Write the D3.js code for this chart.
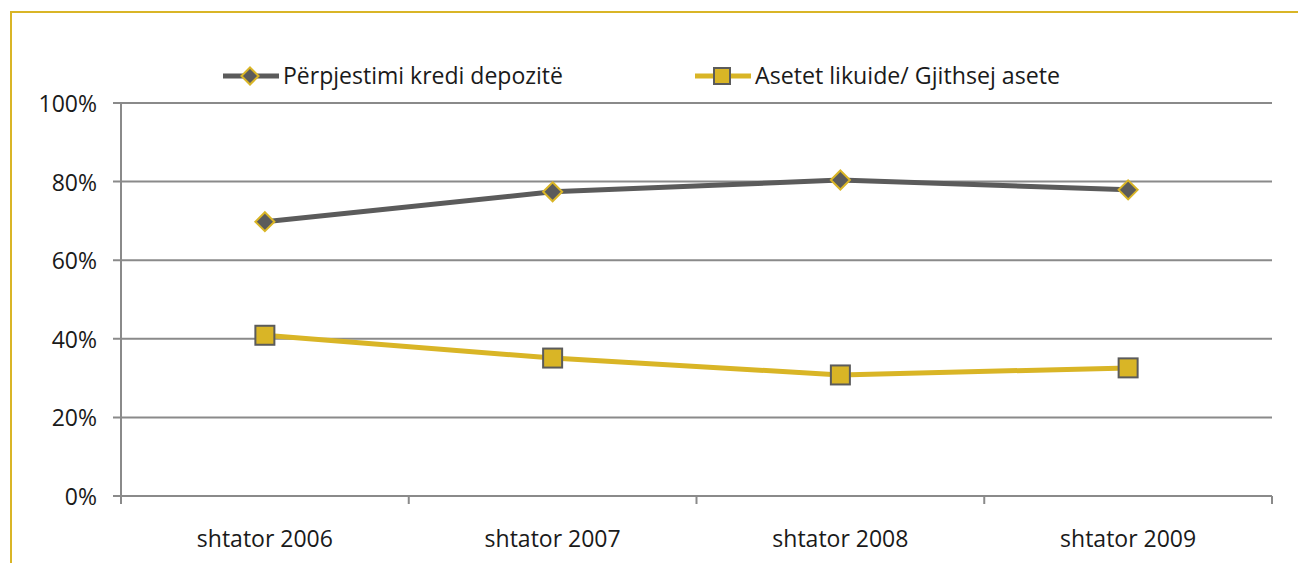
<!DOCTYPE html>
<html>
<head>
<meta charset="utf-8">
<script src="https://cdn.jsdelivr.net/npm/d3@7"></script>
<style>
  html, body { margin: 0; padding: 0; background: #fff; }
  svg { display: block; }
</style>
</head>
<body>
<svg id="chart" width="1298" height="563"></svg>
<script>
// chart values
const categories = ['shtator 2006', 'shtator 2007', 'shtator 2008', 'shtator 2009'];
const loanDeposit = [69.8, 77.4, 80.4, 77.9];     // Përpjestimi kredi depozitë
const liquidAssets = [40.9, 35.1, 30.8, 32.6];    // Asetet likuide/ Gjithsej asete
const yTicks = [0, 20, 40, 60, 80, 100];
const seriesNames = ['Përpjestimi kredi depozitë', 'Asetet likuide/ Gjithsej asete'];

const W = 1298, H = 563;
const gold = '#d9b526', dark = '#5b5b5b', grid = '#8a8a8a', ink = '#1a1a1a';
const font = '"Open Sans", "Noto Sans", sans-serif';
const m = { left: 121, right: 1272, top: 103, bottom: 496 };

const svg = d3.select('#chart');

// outer frame (gold, open to the right / bottom)
svg.append('path')
  .attr('d', `M11,${H} L11,12 L${W},12`)
  .attr('fill', 'none').attr('stroke', gold).attr('stroke-width', 2);

const x = d3.scaleBand().domain(categories).range([m.left, m.right]);
const y = d3.scaleLinear().domain([0, 100]).range([m.bottom, m.top]);

// horizontal gridlines + y tick marks
svg.append('g').selectAll('line').data(yTicks).join('line')
  .attr('x1', m.left - 8).attr('x2', m.right)
  .attr('y1', d => y(d)).attr('y2', d => y(d))
  .attr('stroke', grid).attr('stroke-width', 2);

svg.append('g').selectAll('text').data(yTicks).join('text')
  .attr('x', 97).attr('y', d => y(d) + 9)
  .attr('text-anchor', 'end').attr('font-family', font).attr('font-size', 23)
  .attr('fill', ink).text(d => d + '%');

// y axis line
svg.append('line').attr('x1', m.left).attr('x2', m.left)
  .attr('y1', m.top).attr('y2', m.bottom + 8)
  .attr('stroke', grid).attr('stroke-width', 2);

// x category boundary ticks
const bounds = categories.map(c => x(c)).concat([m.right]);
svg.append('g').selectAll('line').data(bounds).join('line')
  .attr('x1', d => d).attr('x2', d => d)
  .attr('y1', m.bottom).attr('y2', m.bottom + 8)
  .attr('stroke', grid).attr('stroke-width', 2);

svg.append('g').selectAll('text').data(categories).join('text')
  .attr('x', d => x(d) + x.bandwidth() / 2).attr('y', 547)
  .attr('text-anchor', 'middle').attr('font-family', font).attr('font-size', 23)
  .attr('fill', ink).text(d => d);

const cx = (d, i) => x(categories[i]) + x.bandwidth() / 2;
const line = d3.line().x(cx).y(d => y(d));

// series lines
svg.append('path').datum(liquidAssets).attr('d', line)
  .attr('fill', 'none').attr('stroke', gold).attr('stroke-width', 5);
svg.append('path').datum(loanDeposit).attr('d', line)
  .attr('fill', 'none').attr('stroke', dark).attr('stroke-width', 5);

// markers
const diamond = s => `M0,${-s} L${s},0 L0,${s} L${-s},0 Z`;
svg.append('g').selectAll('path').data(loanDeposit).join('path')
  .attr('transform', (d, i) => `translate(${cx(d, i)},${y(d)})`)
  .attr('d', diamond(9.5))
  .attr('fill', dark).attr('stroke', gold).attr('stroke-width', 2);

svg.append('g').selectAll('rect').data(liquidAssets).join('rect')
  .attr('x', (d, i) => cx(d, i) - 9.5).attr('y', d => y(d) - 9.5)
  .attr('width', 19).attr('height', 19)
  .attr('fill', gold).attr('stroke', dark).attr('stroke-width', 2);

// legend
const leg = svg.append('g').attr('transform', 'translate(0,76)');
const items = [
  { name: seriesNames[0], x0: 223, color: dark, mark: 'diamond', tl: 280 },
  { name: seriesNames[1], x0: 695, color: gold, mark: 'square', tl: 305 }
];
items.forEach(it => {
  leg.append('line').attr('x1', it.x0).attr('x2', it.x0 + 56)
    .attr('y1', 0).attr('y2', 0).attr('stroke', it.color).attr('stroke-width', 5);
  if (it.mark === 'diamond') {
    leg.append('path').attr('transform', `translate(${it.x0 + 27},0)`)
      .attr('d', diamond(8.5)).attr('fill', dark).attr('stroke', gold).attr('stroke-width', 2);
  } else {
    leg.append('rect').attr('x', it.x0 + 27 - 8).attr('y', -8)
      .attr('width', 16).attr('height', 16)
      .attr('fill', gold).attr('stroke', dark).attr('stroke-width', 2);
  }
  leg.append('text').attr('x', it.x0 + 60).attr('y', 8)
    .attr('font-family', font).attr('font-size', 23).attr('fill', ink)
    .attr('textLength', it.tl).attr('lengthAdjust', 'spacingAndGlyphs')
    .text(it.name);
});
</script>
</body>
</html>
